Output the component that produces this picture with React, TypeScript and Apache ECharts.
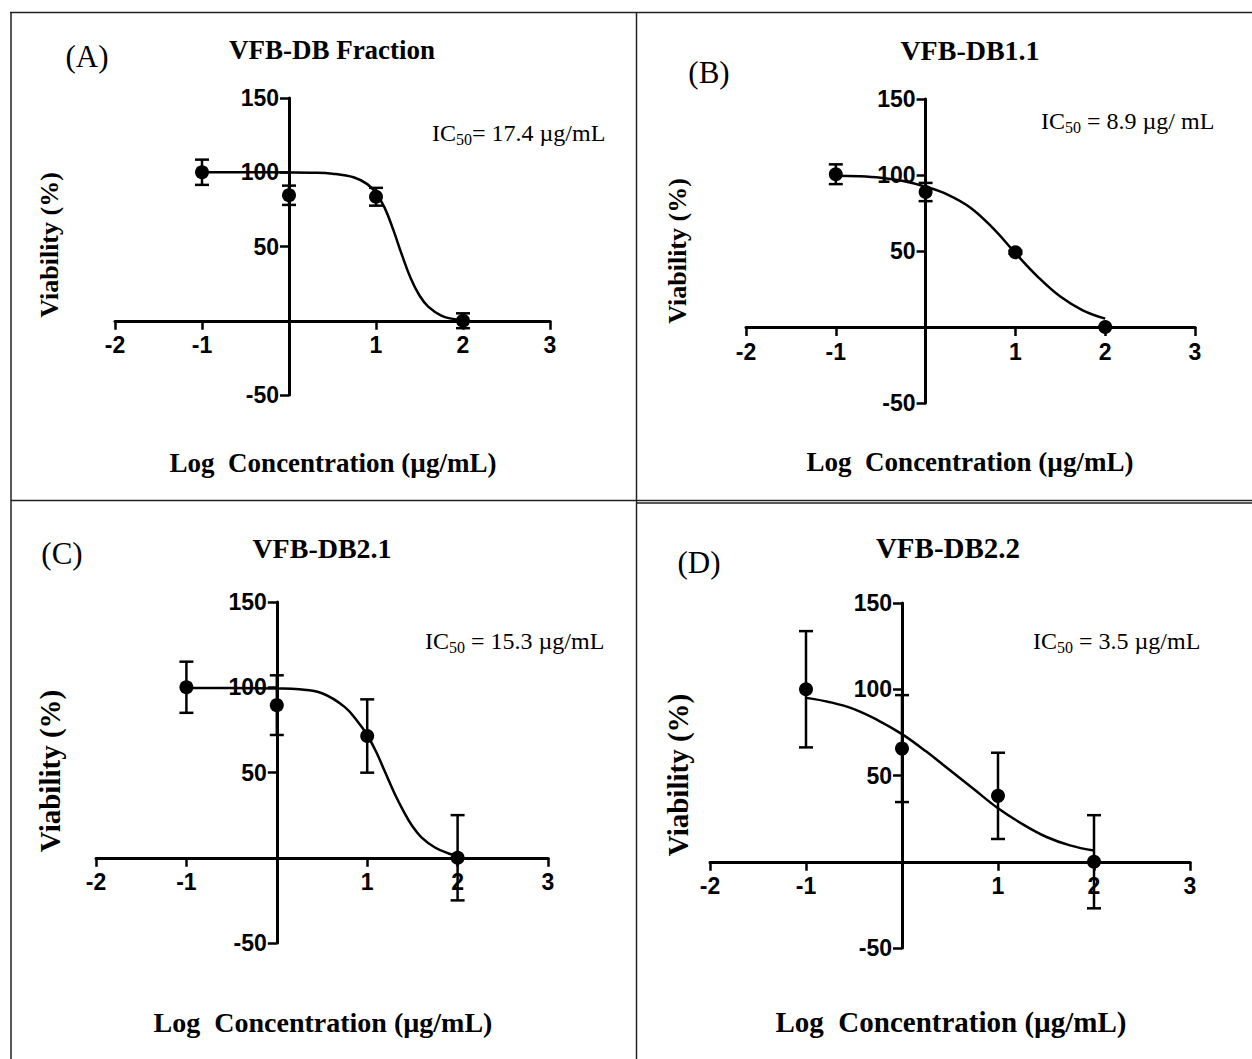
import React, { useEffect, useRef } from "react";
import * as echarts from "echarts";

// ---- data ----
const doseLog = [-1, 0, 1, 2];

const meanA = [100, 84.5, 83.5, 0];
const errA = [8.5, 6.5, 6, 5];
const meanB = [100.5, 88.8, 49.2, 0];
const errB = [6.5, 6, 1, 0];
const meanC = [100, 89.5, 71.4, 0];
const errC = [15, 17.5, 21.5, 25];
const meanD = [100, 65.6, 38.2, 0];
const errD = [33.7, 31, 25, 27];

const fitXA = [-1, -0.5, 0, 0.25, 0.5, 0.75, 0.9, 1, 1.1, 1.2, 1.3, 1.4, 1.5, 1.6, 1.75, 1.9, 2];
const fitYA = [100, 100, 99.9, 99.7, 99, 96.5, 92, 86, 76, 61, 44, 28.5, 17, 9.5, 3.5, 1, 0.3];
const fitXB = [-1, -0.75, -0.5, -0.25, 0, 0.25, 0.5, 0.75, 1, 1.25, 1.5, 1.75, 2];
const fitYB = [99.5, 99.2, 98.2, 96, 92.3, 87, 78.5, 65, 48.6, 33, 20, 11, 5.5];
const fitXC = [-1, -0.5, 0, 0.25, 0.5, 0.75, 0.9, 1, 1.1, 1.2, 1.3, 1.4, 1.5, 1.6, 1.75, 1.9, 2];
const fitYC = [99.5, 99.5, 99.3, 98.8, 96.5, 88.5, 79.5, 72, 62, 50, 38, 27.5, 18.5, 12, 6, 2.5, 1.2];
const fitXD = [-1, -0.75, -0.5, -0.25, 0, 0.25, 0.5, 0.75, 1, 1.25, 1.5, 1.75, 2];
const fitYD = [95, 92.5, 88.5, 82, 74, 64, 53, 42, 31, 22, 14.5, 9.5, 6.5];

const xTicks = [-2, -1, 0, 1, 2, 3];
const yTicks = [-50, 0, 50, 100, 150];

const panelLetters = ["(A)", "(B)", "(C)", "(D)"];
const panelTitles = ["VFB-DB Fraction", "VFB-DB1.1", "VFB-DB2.1", "VFB-DB2.2"];
const icValues = ["= 17.4 µg/mL", " = 8.9 µg/ mL", " = 15.3 µg/mL", " = 3.5 µg/mL"];
const xTitle = "Log  Concentration (µg/mL)";
const yTitle = "Viability (%)";

const SERIF = '"Liberation Serif", "Times New Roman", serif';
const SANS = '"Liberation Sans Narrow", "Liberation Sans", Arial, sans-serif';

export default function App() {
  const ref = useRef<HTMLDivElement>(null);

  useEffect(() => {
    if (!ref.current) return;
    const chart = echarts.init(ref.current, null, { renderer: "svg" });

    const panels = [
      { mean: meanA, err: errA, fx: fitXA, fy: fitYA, grid: { left: 115, top: 98, width: 435, height: 297 } },
      { mean: meanB, err: errB, fx: fitXB, fy: fitYB, grid: { left: 746, top: 99, width: 449, height: 304 } },
      { mean: meanC, err: errC, fx: fitXC, fy: fitYC, grid: { left: 96, top: 602, width: 452, height: 341 } },
      { mean: meanD, err: errD, fx: fitXD, fy: fitYD, grid: { left: 710, top: 603, width: 480, height: 345 } },
    ];

    const textPos = [
      { title: [332, 50, 27], letter: [87, 56], ic: [432, 133], yt: [49, 245, 26], xt: [333, 463, 27] },
      { title: [970, 50, 28], letter: [709, 72], ic: [1041, 121], yt: [677, 251, 26], xt: [970, 462, 27] },
      { title: [322, 548, 28], letter: [62, 553], ic: [425, 641], yt: [50, 771, 29], xt: [323, 1022, 28] },
      { title: [948, 548, 29], letter: [699, 562], ic: [1033, 641], yt: [678, 775, 29], xt: [951, 1022, 29] },
    ];

    const xMin = xTicks[0];
    const xMax = xTicks[xTicks.length - 1];
    const yMin = yTicks[0];
    const yMax = yTicks[yTicks.length - 1];

    const grids: any[] = [];
    const xAxes: any[] = [];
    const yAxes: any[] = [];
    const series: any[] = [];

    const labelStyle = {
      color: "#000",
      fontFamily: SANS,
      fontWeight: "bold",
      fontSize: 23,
      formatter: (v: number) => (v === 0 ? "" : String(v)),
    };

    panels.forEach((p, i) => {
      const g = p.grid;
      grids.push({ ...g, containLabel: false });
      const yOff = -((0 - xMin) / (xMax - xMin)) * g.width;
      const xOff = -((0 - yMin) / (yMax - yMin)) * g.height;
      xAxes.push({
        type: "value",
        gridIndex: i,
        min: xMin,
        max: xMax,
        interval: 1,
        position: "bottom",
        offset: xOff,
        axisLine: { onZero: false, lineStyle: { color: "#000", width: 3 } },
        axisTick: { show: true, length: 9, lineStyle: { color: "#000", width: 2.5 } },
        axisLabel: { ...labelStyle, margin: 13 },
        splitLine: { show: false },
      });
      yAxes.push({
        type: "value",
        gridIndex: i,
        min: yMin,
        max: yMax,
        interval: 50,
        position: "left",
        offset: yOff,
        axisLine: { onZero: false, lineStyle: { color: "#000", width: 3 } },
        axisTick: { show: true, length: 9, lineStyle: { color: "#000", width: 2.5 } },
        axisLabel: { ...labelStyle, margin: 10 },
        splitLine: { show: false },
      });

      series.push({
        type: "line",
        xAxisIndex: i,
        yAxisIndex: i,
        data: p.fx.map((x, k) => [x, p.fy[k]]),
        smooth: 0.4,
        showSymbol: false,
        symbol: "none",
        lineStyle: { color: "#000", width: 2.5 },
        z: 3,
      });
      series.push({
        type: "custom",
        xAxisIndex: i,
        yAxisIndex: i,
        data: doseLog.map((x, k) => [x, p.mean[k], p.mean[k] - p.err[k], p.mean[k] + p.err[k]]),
        encode: { x: 0, y: [2, 3] },
        renderItem: (params: any, api: any) => {
          const x = api.value(0);
          const lo = api.value(2);
          const hi = api.value(3);
          const t = api.coord([x, hi]);
          const b = api.coord([x, lo]);
          const hw = 7;
          const st = { stroke: "#000", lineWidth: 2.5 };
          return {
            type: "group",
            children: [
              { type: "line", shape: { x1: t[0], y1: t[1], x2: b[0], y2: b[1] }, style: st },
              { type: "line", shape: { x1: t[0] - hw, y1: t[1], x2: t[0] + hw, y2: t[1] }, style: st },
              { type: "line", shape: { x1: b[0] - hw, y1: b[1], x2: b[0] + hw, y2: b[1] }, style: st },
            ],
          };
        },
        z: 4,
      });
      series.push({
        type: "scatter",
        xAxisIndex: i,
        yAxisIndex: i,
        data: doseLog.map((x, k) => [x, p.mean[k]]),
        symbol: "circle",
        symbolSize: 14,
        itemStyle: { color: "#000", opacity: 1 },
        z: 5,
      });
    });

    const graphics: any[] = [];
    const bs = { stroke: "#222", lineWidth: 1.5 };
    graphics.push({ type: "line", shape: { x1: 10, y1: 12.5, x2: 1252, y2: 12.5 }, style: bs });
    graphics.push({ type: "line", shape: { x1: 11, y1: 12, x2: 11, y2: 1059 }, style: bs });
    graphics.push({ type: "line", shape: { x1: 636.5, y1: 12, x2: 636.5, y2: 1059 }, style: bs });
    graphics.push({ type: "line", shape: { x1: 11, y1: 500.5, x2: 636.5, y2: 500.5 }, style: bs });
    graphics.push({ type: "line", shape: { x1: 636.5, y1: 500.5, x2: 1252, y2: 500.5 }, style: bs });
    graphics.push({ type: "line", shape: { x1: 636.5, y1: 503, x2: 1252, y2: 503 }, style: bs });

    textPos.forEach((tp, i) => {
      graphics.push({
        type: "text",
        x: tp.title[0],
        y: tp.title[1],
        style: {
          text: panelTitles[i],
          font: `bold ${tp.title[2]}px ${SERIF}`,
          fill: "#000",
          align: "center",
          verticalAlign: "middle",
        },
      });
      graphics.push({
        type: "text",
        x: tp.letter[0],
        y: tp.letter[1],
        style: {
          text: panelLetters[i],
          font: `31px ${SERIF}`,
          fill: "#000",
          align: "center",
          verticalAlign: "middle",
        },
      });
      graphics.push({
        type: "text",
        x: tp.ic[0],
        y: tp.ic[1],
        style: {
          text: `{n|IC}{s|50}{n|${icValues[i]}}`,
          fill: "#000",
          align: "left",
          verticalAlign: "middle",
          rich: {
            n: { fontFamily: SERIF, fontSize: 24, fill: "#000", verticalAlign: "middle" },
            s: { fontFamily: SERIF, fontSize: 16, fill: "#000", padding: [13, 0, 0, 0] },
          },
        },
      });
      graphics.push({
        type: "text",
        x: tp.yt[0],
        y: tp.yt[1],
        rotation: Math.PI / 2,
        style: {
          text: yTitle,
          font: `bold ${tp.yt[2]}px ${SERIF}`,
          fill: "#000",
          align: "center",
          verticalAlign: "middle",
        },
      });
      graphics.push({
        type: "text",
        x: tp.xt[0],
        y: tp.xt[1],
        style: {
          text: xTitle,
          font: `bold ${tp.xt[2]}px ${SERIF}`,
          fill: "#000",
          align: "center",
          verticalAlign: "middle",
        },
      });
    });

    chart.setOption({
      animation: false,
      backgroundColor: "#fff",
      grid: grids,
      xAxis: xAxes,
      yAxis: yAxes,
      series,
      graphic: graphics,
    });

    return () => chart.dispose();
  }, []);

  return (
    <div
      ref={ref}
      style={{ position: "absolute", left: 0, top: 0, width: 1252, height: 1059, background: "#fff" }}
    />
  );
}
